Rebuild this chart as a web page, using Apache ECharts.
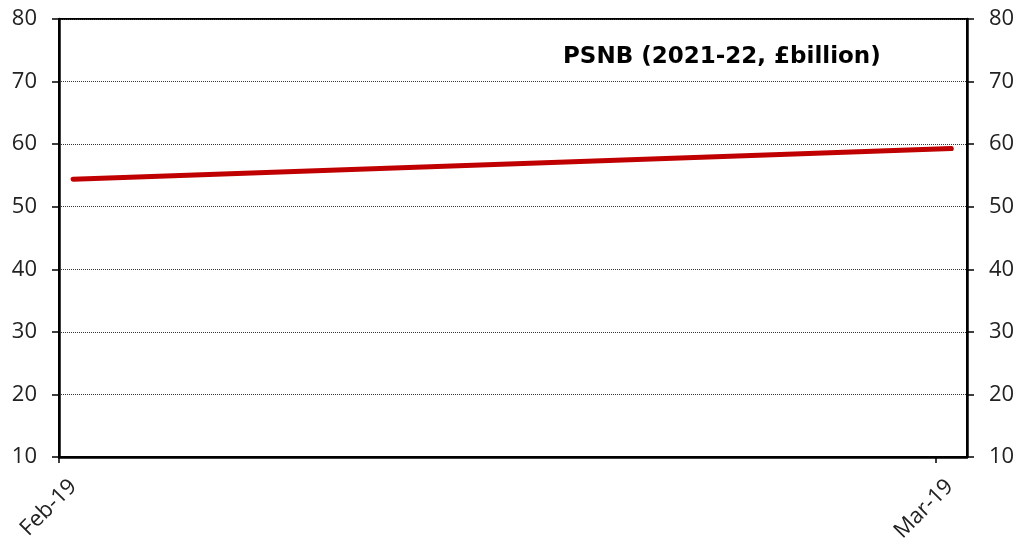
<!DOCTYPE html>
<html>
<head>
<meta charset="utf-8">
<script src="https://cdn.jsdelivr.net/npm/echarts@6/dist/echarts.min.js"></script>
<style>html,body{margin:0;padding:0;background:#fff}#c{width:1022px;height:544px}</style>
</head>
<body>
<div id="c"></div>
<script>
// Days since 1 Feb 2019
const xTickPositions = [0, 28];
const xTickLabels = ['Feb-19', 'Mar-19'];
const pointDays = [0.45, 28.5];
const psnbValues = [54.4, 59.3];
const yTicks = [10, 20, 30, 40, 50, 60, 70, 80];
const title = 'PSNB (2021-22, £billion)';

const chart = echarts.init(document.getElementById('c'), null, {renderer: 'canvas'});
const font = '"Open Sans", "Noto Sans", sans-serif';
const yAxisCommon = {
  type: 'value', min: 10, max: 80, interval: 10,
  axisLine: {show: true, lineStyle: {color: '#000', width: 2.5}},
  axisTick: {show: true, inside: false, length: 7, lineStyle: {color: '#000', width: 1.5}},
  axisLabel: {color: '#222', fontSize: 22, fontFamily: font, margin: 22},
};
chart.setOption({
  animation: false,
  grid: {left: 59, right: 55, top: 19, bottom: 87, show: true, borderColor: '#000', borderWidth: 2,
         containLabel: false, outerBoundsMode: 'none'},
  title: {
    text: title, left: 558, top: 41,
    textStyle: {fontSize: 23, fontWeight: 'bold', fontFamily: '"DejaVu Sans", sans-serif', color: '#000'}
  },
  xAxis: {
    type: 'value', min: 0, max: 29, interval: 28,
    axisLine: {show: true, lineStyle: {color: '#000', width: 2.5}},
    axisTick: {show: true, length: 6, customValues: xTickPositions, lineStyle: {color: '#000', width: 1.5}},
    splitLine: {show: false},
    axisLabel: {
      rotate: 45, fontSize: 22, fontFamily: font, color: '#222', margin: 12,
      align: 'right', verticalAlign: 'top', lineHeight: 40,
      customValues: xTickPositions,
      formatter: v => { const i = xTickPositions.indexOf(v); return i >= 0 ? xTickLabels[i] : ''; }
    }
  },
  yAxis: [
    Object.assign({}, yAxisCommon, {position: 'left',
      splitLine: {show: true, lineStyle: {color: '#333', width: 1, type: [1, 1]}}}),
    Object.assign({}, yAxisCommon, {position: 'right', splitLine: {show: false}})
  ],
  series: [{
    type: 'line',
    data: pointDays.map((d, i) => [d, psnbValues[i]]),
    symbol: 'none',
    lineStyle: {color: '#c00000', width: 5, cap: 'round'}
  }]
});
</script>
</body>
</html>
